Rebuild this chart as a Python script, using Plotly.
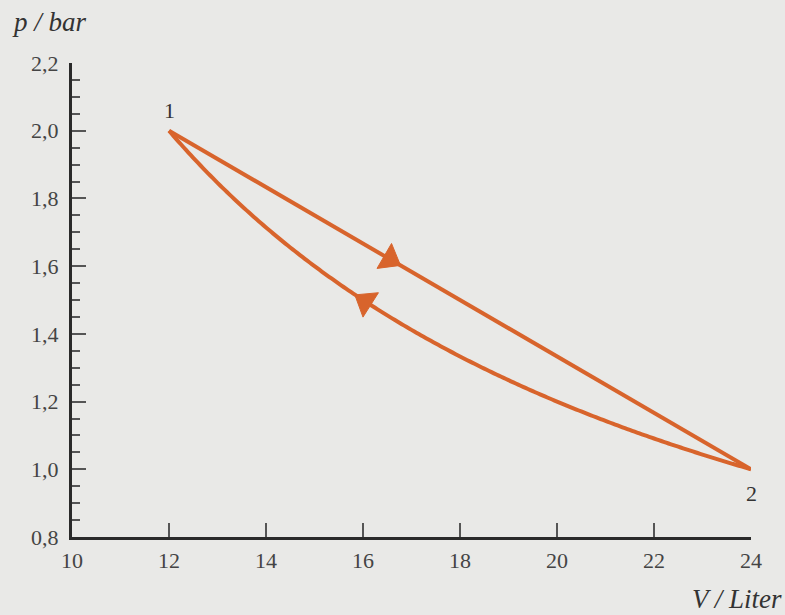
import numpy as np
import plotly.graph_objects as go

# Data
V_line = [12, 24]
p_line = [2.0, 1.0]
V_iso = np.linspace(24, 12, 241)
p_iso = 24.0 / V_iso  # isotherm p*V = const through states 1 and 2
states = ["1", "2"]
V_states = [12, 24]
p_states = [2.0, 1.0]
x_ticks = [10, 12, 14, 16, 18, 20, 22, 24]
y_ticks = [0.8, 1.0, 1.2, 1.4, 1.6, 1.8, 2.0, 2.2]
# direction arrow positions (V on each branch)
V_arrow_line = [16.1, 16.55]   # previous point, arrow point (1 -> 2)
V_arrow_iso = [16.5, 16.05]    # previous point, arrow point (2 -> 1)

ORANGE = "#d8642c"
AXIS = "#2a2a2a"
BG = "#e9e9e7"
FONT = "Liberation Serif"


def p_on_line(v):
    return p_line[0] + (v - V_line[0]) * (p_line[1] - p_line[0]) / (V_line[1] - V_line[0])


fig = go.Figure()
fig.add_trace(go.Scatter(x=V_line, y=p_line, mode="lines",
                         line=dict(color=ORANGE, width=4), cliponaxis=False, hoverinfo="skip"))
fig.add_trace(go.Scatter(x=V_iso, y=p_iso, mode="lines",
                         line=dict(color=ORANGE, width=4, simplify=False), cliponaxis=False,
                         hoverinfo="skip"))

for xs, ys in [(V_arrow_line, [p_on_line(v) for v in V_arrow_line]),
               (V_arrow_iso, [24.0 / v for v in V_arrow_iso])]:
    fig.add_trace(go.Scatter(x=xs, y=ys, mode="markers",
                             marker=dict(symbol="triangle-up", size=[0, 25], color=ORANGE,
                                         opacity=1, angleref="previous",
                                         line=dict(width=1, color=ORANGE)),
                             hoverinfo="skip"))

fig.add_annotation(x=V_states[0], y=p_states[0], text=states[0], showarrow=False,
                   yshift=20, font=dict(family=FONT, size=22, color="#333"))
fig.add_annotation(x=V_states[1], y=p_states[1], text=states[1], showarrow=False,
                   yshift=-24, font=dict(family=FONT, size=22, color="#333"))

fig.add_annotation(x=0.0, y=1.0, xref="paper", yref="paper", xanchor="left", yanchor="middle",
                   xshift=-62, yshift=41, text="<i>p / bar</i>", showarrow=False,
                   font=dict(family=FONT, size=27, color="#333"))
fig.add_annotation(x=1.0, y=0.0, xref="paper", yref="paper", xanchor="right", yanchor="middle",
                   xshift=33, yshift=-62, text="<i>V / Liter</i>", showarrow=False,
                   font=dict(family=FONT, size=27, color="#333"))

fig.update_layout(
    width=785, height=615,
    margin=dict(l=72, r=34, t=63, b=78),
    paper_bgcolor=BG, plot_bgcolor=BG,
    separators=",.",
    showlegend=False,
    font=dict(family=FONT, size=22, color="#444"),
)
fig.update_xaxes(range=[10, 24], tickvals=x_ticks, ticktext=[str(v) for v in x_ticks],
                 showgrid=False, zeroline=False, showline=True, linecolor=AXIS, linewidth=3,
                 ticks="inside", ticklen=14, tickwidth=1.5, tickcolor="#555",
                 ticklabelstandoff=2)
fig.update_yaxes(range=[0.8, 2.2], tickvals=y_ticks, tickformat=".1f",
                 showgrid=False, zeroline=False, showline=True, linecolor=AXIS, linewidth=3,
                 ticks="inside", ticklen=14, tickwidth=1.5, tickcolor="#555",
                 minor=dict(ticks="inside", ticklen=8, dtick=0.05, tickwidth=1.5, tickcolor="#555", showgrid=False),
                 ticklabelstandoff=6)

fig.write_html("out.html", config={"displayModeBar": False},
               post_script="document.body.style.margin='0';document.body.style.overflow='hidden';")
